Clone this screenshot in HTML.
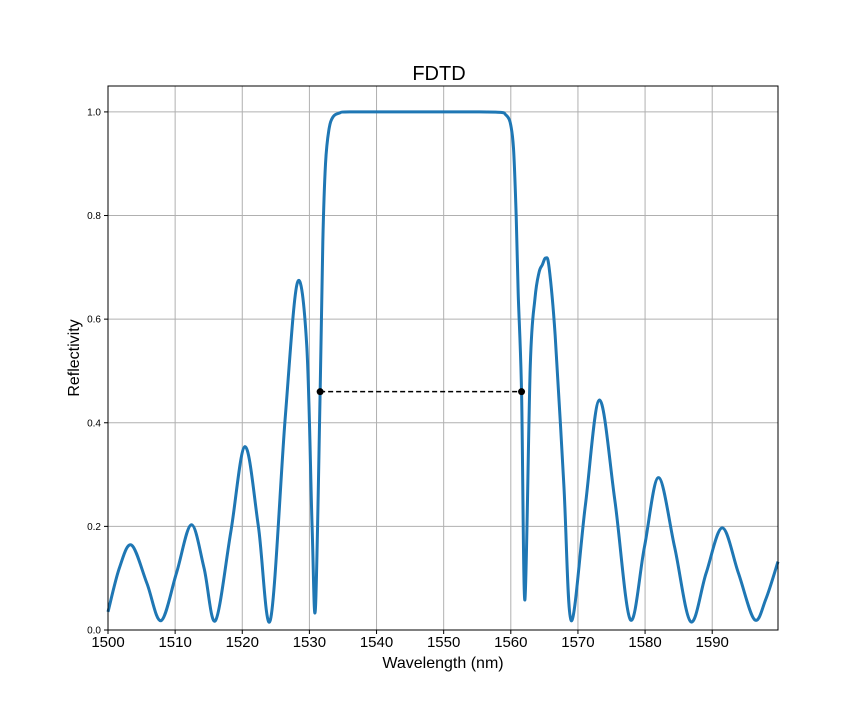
<!DOCTYPE html>
<html><head><meta charset="utf-8"><style>
body{margin:0;background:#fff}
svg text{font-family:"Liberation Sans","DejaVu Sans",sans-serif}
</style></head><body>
<svg id="chart" width="864" height="720">
<rect width="864" height="720" fill="#fff"/>
<g id="grid"></g>
<g id="ticks"></g>
<path id="series" fill="none" stroke="#1f77b4" stroke-width="3" stroke-linejoin="round"/>
<g id="marks"></g>
<rect x="108" y="86" width="670" height="544" fill="none" stroke="#000" stroke-width="1"/>
<text x="439" y="80" font-size="20" text-anchor="middle">FDTD</text>
<text x="443" y="668" font-size="16" text-anchor="middle">Wavelength (nm)</text>
<text transform="translate(79,358) rotate(-90)" font-size="16" text-anchor="middle">Reflectivity</text>
</svg>
<script>
const wavelengths=[1500,1501.7,1503.5,1505.8,1507.9,1510.2,1512.4,1514.3,1516.0,1518.3,1520.4,1522.4,1524.2,1526.4,1528.2,1529.6,1530.4,1530.9,1531.6,1532.0,1532.4,1532.9,1533.5,1534.5,1536,1545,1555,1558.5,1559.2,1559.9,1560.4,1560.8,1561.1,1561.6,1562.1,1562.9,1563.6,1564.2,1564.7,1565.2,1565.7,1566.6,1567.9,1569.0,1571.1,1573.2,1575.5,1577.8,1579.9,1582.0,1584.4,1586.8,1589.1,1591.5,1593.9,1596.3,1598,1599.8];
const reflectivity=[0.035,0.12,0.164,0.09,0.018,0.11,0.203,0.12,0.018,0.19,0.354,0.2,0.02,0.41,0.670,0.55,0.2,0.042,0.46,0.75,0.9,0.965,0.99,0.998,1.0,1.0,1.0,0.999,0.995,0.98,0.93,0.8,0.65,0.46,0.058,0.51,0.64,0.69,0.705,0.718,0.70,0.57,0.28,0.018,0.24,0.444,0.25,0.02,0.16,0.294,0.16,0.016,0.11,0.197,0.11,0.02,0.06,0.132];
const xTicks=[1500,1510,1520,1530,1540,1550,1560,1570,1580,1590];
const yTicks=[0.0,0.2,0.4,0.6,0.8,1.0];
const bandEdges=[1531.6,1561.6];
const bandLevel=[0.46];
const X0=108,X1=778,Y0=630,Y1=86,XMIN=1500,XMAX=1599.8,YMIN=0,YMAX=1.05;
const sx=v=>X0+(v-XMIN)/(XMAX-XMIN)*(X1-X0);
const sy=v=>Y0-(v-YMIN)/(YMAX-YMIN)*(Y0-Y1);
const NS="http://www.w3.org/2000/svg";
const grid=document.getElementById('grid'),ticks=document.getElementById('ticks'),marks=document.getElementById('marks');
function mk(tag,attrs,parent){const e=document.createElementNS(NS,tag);for(const k in attrs)e.setAttribute(k,attrs[k]);parent.appendChild(e);return e;}
xTicks.forEach(t=>{const x=sx(t);
 const g=mk('line',{x1:x,x2:x,y1:Y1,y2:Y0,stroke:'#b0b0b0','stroke-width':1},grid);
 
 
 mk('line',{x1:x,x2:x,y1:Y0,y2:Y0+4,stroke:'#000'},ticks);
 const l=mk('text',{x:x,y:Y0+17,'font-size':15,'text-anchor':'middle'},ticks);l.textContent=t;
 
 
});
yTicks.forEach(t=>{const y=sy(t);
 const g=mk('line',{x1:X0,x2:X1,y1:y,y2:y,stroke:'#b0b0b0','stroke-width':1},grid);
 
 
 mk('line',{x1:X0-4,x2:X0,y1:y,y2:y,stroke:'#000'},ticks);
 const l=mk('text',{x:X0-7,y:y+3.5,'font-size':10,'text-anchor':'end'},ticks);l.textContent=t.toFixed(1);
 
 
});
const P=wavelengths.map((w,i)=>[sx(w),sy(reflectivity[i])]);
let d='M'+P[0][0]+','+P[0][1];
for(let i=0;i<P.length-1;i++){const p0=P[Math.max(0,i-1)],p1=P[i],p2=P[i+1],p3=P[Math.min(P.length-1,i+2)];
 const c1=[p1[0]+(p2[0]-p0[0])/6,p1[1]+(p2[1]-p0[1])/6],c2=[p2[0]-(p3[0]-p1[0])/6,p2[1]-(p3[1]-p1[1])/6];
 d+=` C${c1[0]},${c1[1]} ${c2[0]},${c2[1]} ${p2[0]},${p2[1]}`;}
document.getElementById('series').setAttribute('d',d);
const dl=mk('line',{x1:sx(bandEdges[0]),x2:sx(bandEdges[1]),y1:sy(bandLevel[0]),y2:sy(bandLevel[0]),stroke:'#000','stroke-width':1.5,'stroke-dasharray':'5,3'},marks);


bandEdges.forEach(w=>{const c=mk('circle',{cx:sx(w),cy:sy(bandLevel[0]),r:3.5,fill:'#000'},marks);
 
 });
</script>
</body></html>
